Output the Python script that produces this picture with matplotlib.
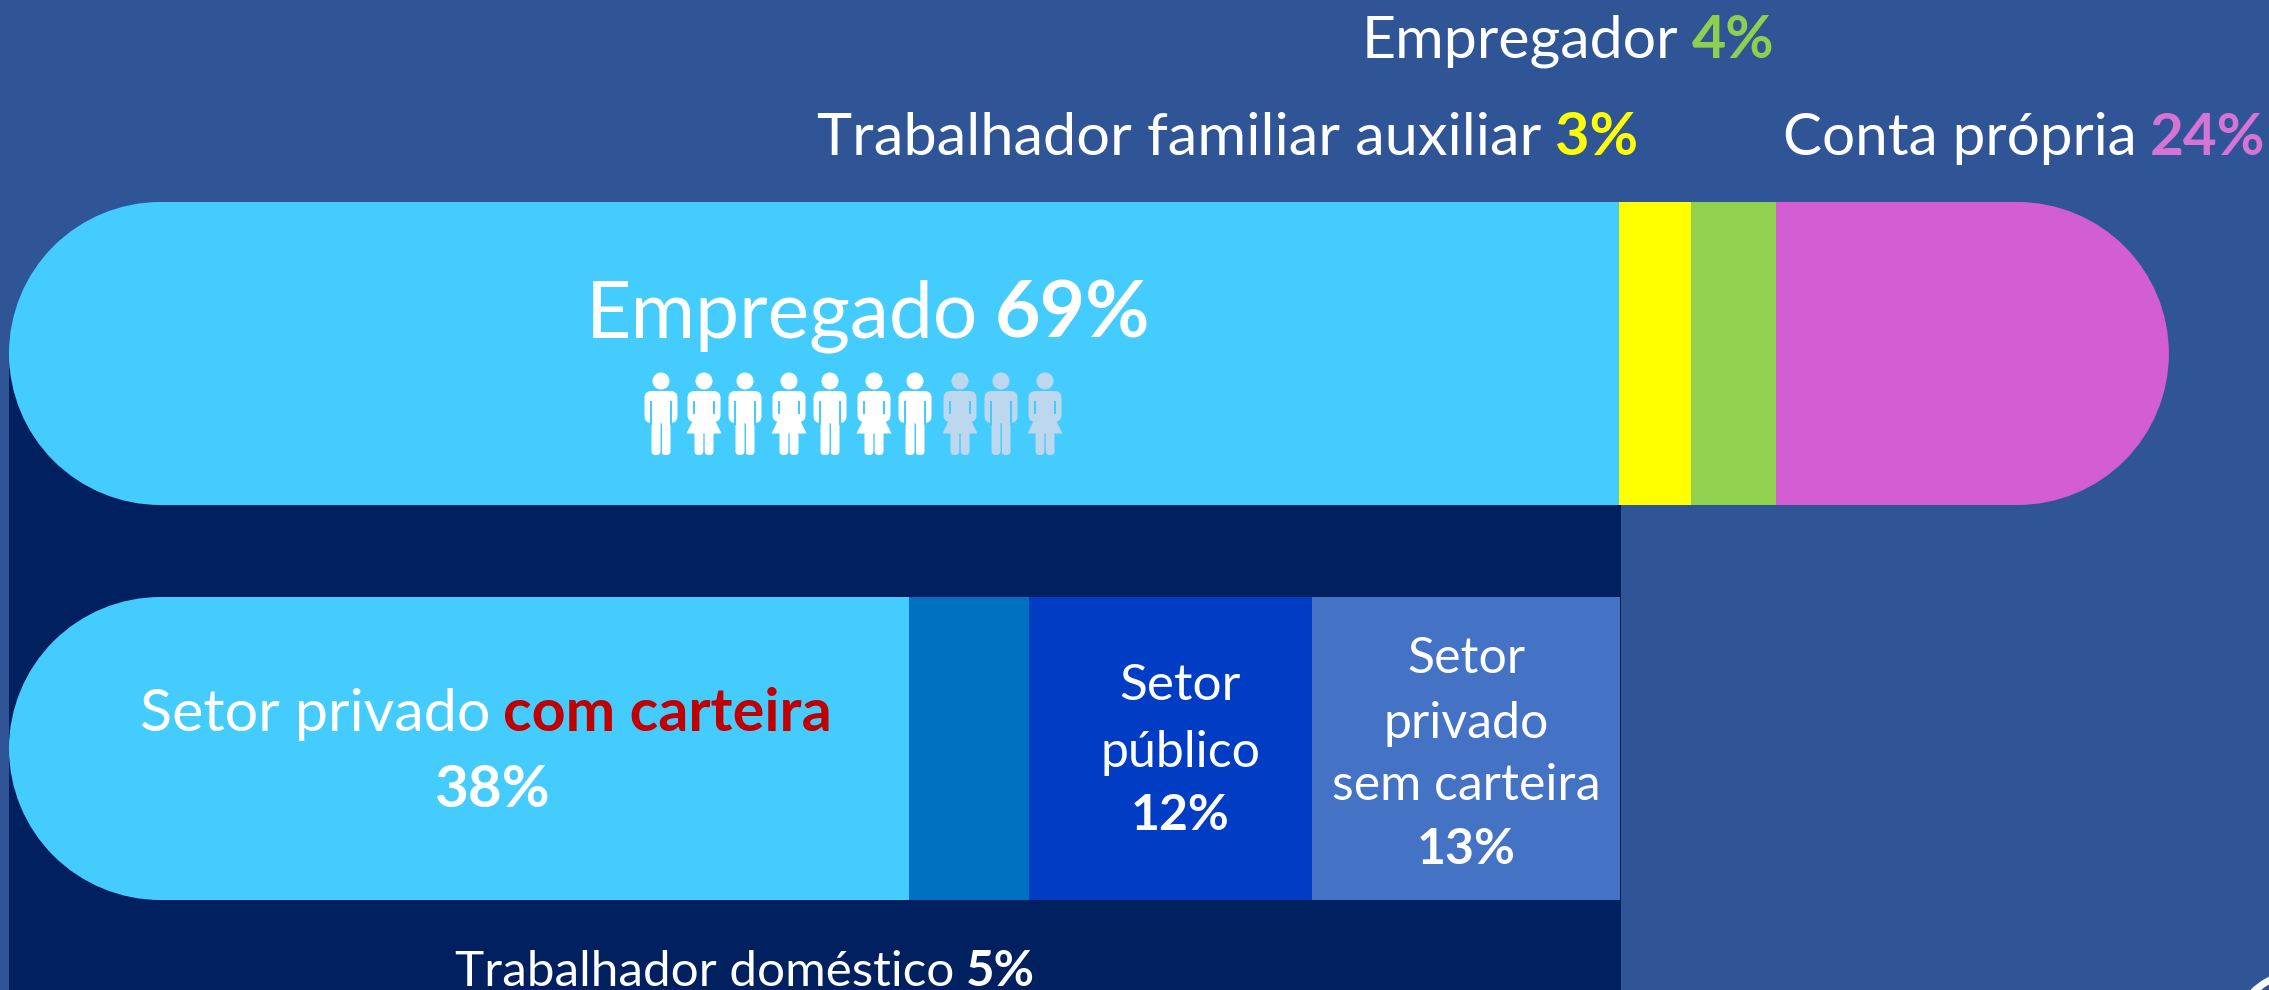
import matplotlib
matplotlib.use('Agg')
import matplotlib.pyplot as plt
from matplotlib.patches import Circle, FancyBboxPatch, Polygon, Rectangle, Arc
import numpy as np

plt.rcParams['font.family'] = ['Lato', 'DejaVu Sans']

# labelled shares
top_names = ['Empregado', 'Trabalhador familiar auxiliar', 'Empregador', 'Conta própria']
top_values = [69, 3, 4, 24]
sub_names = ['Setor privado com carteira', 'Trabalhador doméstico', 'Setor público', 'Setor privado sem carteira']
sub_values = [38, 5, 12, 13]

# lengths as drawn in the picture (the last top segment is drawn short)
top_lengths = [69.03, 3.05, 3.65, 16.85]
sub_lengths = [38.58, 5.14, 12.13, 13.2]

top_colors = ['#45CCFF', '#FFFF00', '#92D050', '#D35ED1']
sub_colors = ['#45CCFF', '#0070C0', '#003DC4', '#4472C4']

# pictogram row, 1 = woman, first 7 of 10 are filled
people = [0, 1, 0, 1, 0, 1, 0, 1, 0, 1]
people_x = [661, 704, 745, 789, 830, 874, 915, 960, 1001, 1045]

W, H = 2269, 990
BG = '#2F5597'
DARK = '#002060'
WHITE = '#FFFFFF'
X0 = 9
PX = 23.33  # pixels per percent
ROW_H = 303
R = ROW_H / 2
TOP_Y = 202
SUB_Y = 597

fig = plt.figure(figsize=(W / 100, H / 100), dpi=100, facecolor=BG)


def px_axes(z):
    a = fig.add_axes([0, 0, 1, 1], zorder=z)
    a.set_xlim(0, W)
    a.set_ylim(H, 0)
    a.axis('off')
    return a


ax_bg = px_axes(1)
ax_pct = fig.add_axes([0, 0, 1, 1], zorder=2)
ax_pct.set_xlim(-X0 / PX, (W - X0) / PX)
ax_pct.set_ylim(H, 0)
ax_pct.axis('off')
ax_fg = px_axes(3)

# dark panel behind the bars
ax_bg.add_patch(Rectangle((X0, 368), 1621 - X0, H - 368, fc=DARK, lw=0))

# round ends
ax_bg.add_patch(Circle((X0 + R, TOP_Y + R), R, fc=top_colors[0], lw=0))
end_top = X0 + sum(top_lengths) * PX
ax_bg.add_patch(Circle((end_top - R, TOP_Y + R), R, fc=top_colors[-1], lw=0))
ax_bg.add_patch(Circle((X0 + R, SUB_Y + R), R, fc=sub_colors[0], lw=0))

# bar segments
left = np.concatenate([[0], np.cumsum(top_lengths)[:-1]])
width = np.array(top_lengths)
left[0] += R / PX
width[0] -= R / PX
width[-1] -= R / PX
ax_pct.barh(TOP_Y + R, width, height=ROW_H, left=left, color=top_colors, lw=0)

left = np.concatenate([[0], np.cumsum(sub_lengths)[:-1]])
width = np.array(sub_lengths)
left[0] += R / PX
width[0] -= R / PX
ax_pct.barh(SUB_Y + R, width, height=ROW_H, left=left, color=sub_colors, lw=0)


def line(x, y, parts, size, align='left'):
    # parts = (text, colour, bold), drawn one after the other on the baseline
    r = fig.canvas.get_renderer()
    gap = size * 0.31
    items = []
    for s, c, b in parts:
        t = ax_fg.text(0, y, s, color=c, fontsize=size, va='baseline', ha='left',
                       fontweight='bold' if b else 'normal')
        items.append((t, t.get_window_extent(r).width))
    total = sum(i[1] for i in items) + gap * (len(items) - 1)
    cur = x - total / 2 if align == 'center' else x
    for t, w in items:
        t.set_x(cur)
        cur += w + gap


green = '#8FCF50'
pink = '#D673D6'
yellow = '#FFFF00'
red = '#C00000'

line(1362, 58, [(top_names[2], WHITE, False), (f'{top_values[2]}%', green, True)], 42.6)
line(817, 155, [(top_names[1], WHITE, False), (f'{top_values[1]}%', yellow, True)], 42.8)
line(1783, 155, [(top_names[3], WHITE, False), (f'{top_values[3]}%', pink, True)], 42)
line(868, 337, [(top_names[0], WHITE, False), (f'{top_values[0]}%', WHITE, True)], 56.6, 'center')

line(486, 731, [('Setor privado', WHITE, False), ('com carteira', red, True)], 42.7, 'center')
line(492, 807, [(f'{sub_values[0]}%', WHITE, True)], 42, 'center')

line(1180, 700, [('Setor', WHITE, False)], 37, 'center')
line(1180, 767, [('público', WHITE, False)], 36, 'center')
line(1180, 830, [(f'{sub_values[2]}%', WHITE, True)], 36, 'center')

line(1466, 673, [('Setor', WHITE, False)], 36, 'center')
line(1466, 738, [('privado', WHITE, False)], 36, 'center')
line(1466, 800, [('sem carteira', WHITE, False)], 36, 'center')
line(1466, 864, [(f'{sub_values[3]}%', WHITE, True)], 36, 'center')

line(745, 986, [(sub_names[1], WHITE, False), (f'{sub_values[1]}%', WHITE, True)], 35.6, 'center')


def rbox(x0, y0, x1, y1, rad, c):
    ax_fg.add_patch(FancyBboxPatch((x0 + rad, y0 + rad), x1 - x0 - 2 * rad, y1 - y0 - 2 * rad,
                                   boxstyle=f'round,pad={rad},rounding_size={rad}', fc=c, lw=0))


def person(cx, woman, c):
    ax_fg.add_patch(Circle((cx, 381), 8.5, fc=c, lw=0))
    if woman:
        rbox(cx - 16.5, 391, cx + 16.5, 422, 7, c)
        ax_fg.add_patch(Polygon([(cx - 10, 418), (cx + 10, 418), (cx + 17.5, 433.5), (cx - 17.5, 433.5)], fc=c, lw=0))
        rbox(cx - 9.5, 428, cx - 0.7, 455, 4, c)
        rbox(cx + 0.7, 428, cx + 9.5, 455, 4, c)
        for s in (-1, 1):
            ax_fg.add_patch(Rectangle((cx + s * 10 - 0.6, 401), 1.2, 13, fc=top_colors[0], lw=0))
    else:
        rbox(cx - 16.5, 391, cx + 16.5, 423, 7, c)
        rbox(cx - 9.5, 410, cx - 0.5, 455, 4, c)
        rbox(cx + 0.5, 410, cx + 9.5, 455, 4, c)
        ax_fg.add_patch(Rectangle((cx - 0.5, 424), 1, 31, fc=top_colors[0], lw=0))
        for s in (-1, 1):
            ax_fg.add_patch(Rectangle((cx + s * 10 - 0.6, 401), 1.2, 24, fc=top_colors[0], lw=0))


for i, (cx, w) in enumerate(zip(people_x, people)):
    person(cx, w, WHITE if i < 7 else '#BDD7EE')

# bit of a round logo cut off in the corner
ax_fg.add_patch(Arc((2300, 1040), 134, 134, theta1=180, theta2=300, color=WHITE, lw=5))

fig.savefig('out.png', dpi=100, facecolor=BG)
